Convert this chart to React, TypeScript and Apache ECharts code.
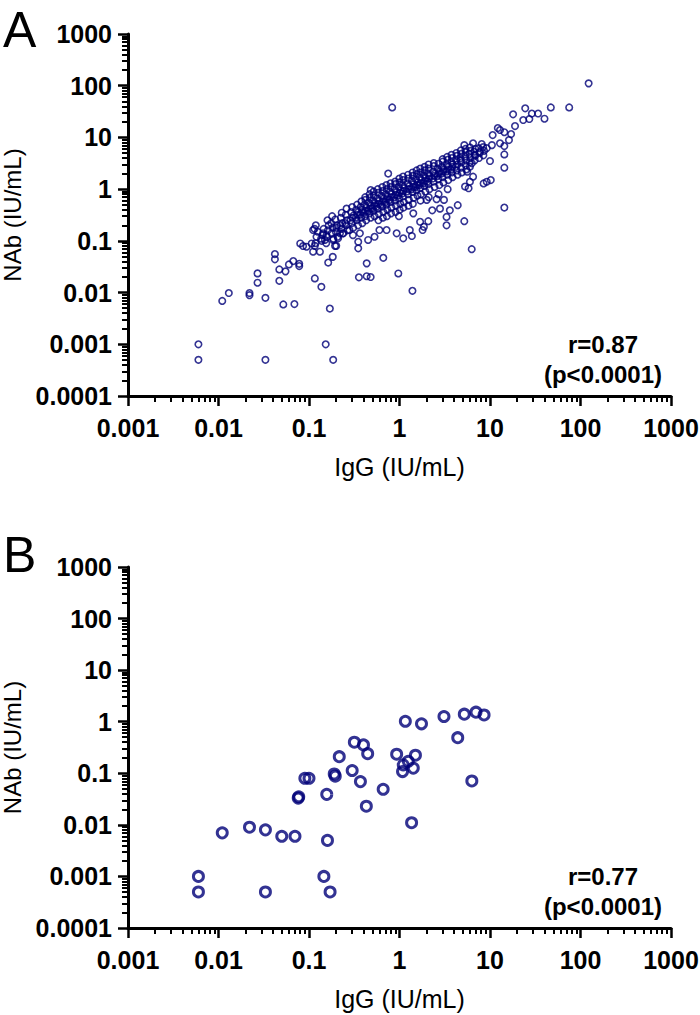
import React, { useEffect, useRef } from 'react';
import * as echarts from 'echarts';

// ---------- tick labels ----------
const xTickLabels = ['0.001', '0.01', '0.1', '1', '10', '100', '1000'];
const yTickLabels = ['0.0001', '0.001', '0.01', '0.1', '1', '10', '100', '1000'];
const minorMultipliers = [2, 3, 4, 5, 6, 7, 8, 9];
const xExpMin = -3;
const xExpMax = 3;
const yExpMin = -4;
const yExpMax = 3;

const xTitle = 'IgG (IU/mL)';
const yTitle = 'NAb (IU/mL)';
const panelLabels = ['A', 'B'];
const statsA = ['r=0.87', '(p<0.0001)'];
const statsB = ['r=0.77', '(p<0.0001)'];

// ---------- Panel A data: [IgG, NAb] ----------
const aLowTail: [number, number][] = [
  [0.006, 0.001], [0.006, 0.0005], [0.011, 0.0069], [0.013, 0.0098], [0.022, 0.0098], [0.022, 0.0089],
  [0.027, 0.0235], [0.027, 0.0155], [0.033, 0.0079], [0.033, 0.0005], [0.042, 0.0556], [0.042, 0.0439],
  [0.047, 0.0169], [0.047, 0.028], [0.052, 0.0059], [0.055, 0.0257], [0.06, 0.035], [0.067, 0.0407],
  [0.069, 0.006], [0.078, 0.036], [0.078, 0.0325], [0.08, 0.089], [0.086, 0.0795], [0.094, 0.077],
  [0.107, 0.089], [0.116, 0.08], [0.111, 0.0616], [0.132, 0.0616], [0.116, 0.0188], [0.137, 0.0129],
  [0.163, 0.038], [0.183, 0.049], [0.17, 0.0049], [0.153, 0.001], [0.185, 0.0005], [0.15, 0.104],
  [0.156, 0.129], [0.185, 0.104], [0.194, 0.08], [0.21, 0.112], [0.24, 0.14], [0.111, 0.162],
  [0.143, 0.14], [0.115, 0.171],
];

const aLowerBand: [number, number][] = [
  [6.28, 0.069], [1.39, 0.0108], [0.97, 0.0234], [0.662, 0.047], [0.434, 0.0367], [0.356, 0.0197],
  [0.434, 0.0207], [0.48, 0.02], [0.2, 0.08], [0.22, 0.14], [0.28, 0.162], [0.306, 0.129],
  [0.35, 0.096], [0.35, 0.0716], [0.365, 0.14], [0.45, 0.104], [0.53, 0.12], [0.6, 0.162],
  [0.72, 0.162], [0.93, 0.14], [1.1, 0.112], [1.37, 0.124], [1.8, 0.162], [1.3, 0.162],
  [1.42, 0.34], [1.69, 0.234], [1.86, 0.187], [2.08, 0.24], [2.0, 0.62], [2.3, 0.39],
  [2.57, 0.64], [2.8, 0.42], [3.1, 0.62], [3.6, 0.39], [3.31, 0.2], [3.31, 0.29],
  [4.4, 0.49], [5.2, 0.24],
];

const aUpper: [number, number][] = [
  [123, 111], [75, 38], [47, 38], [40, 23], [34, 29], [29, 29], [24.5, 36.6], [27.2, 22.7],
  [23.3, 21.7], [18, 28], [18.9, 16.6], [17.1, 11.6], [14.4, 12.6], [12.9, 13.9], [12.2, 15.2],
  [10.7, 11.1], [16.2, 8.9], [14.4, 6.8], [12.9, 7.7], [14.4, 4.7], [14.4, 2.6], [14.4, 0.44],
  [10, 3.5], [10.2, 1.5], [9.2, 1.39], [8.5, 1.29], [8.1, 7.45], [6.5, 7.7], [5.2, 7.1],
  [10.5, 7.1], [9.2, 6.2], [7.7, 5.3], [6.8, 4.6], [6.3, 3.16], [6.0, 2.72], [5.6, 2.17],
  [6.5, 1.74], [6.0, 1.39], [5.3, 1.12], [5.8, 1.04], [0.75, 2.0], [0.48, 0.96], [0.83, 38],
];

const aCluster: [number, number][] = [
  [0.118, 0.09], [0.121, 0.12], [0.125, 0.15], [0.119, 0.2],
  [0.138, 0.1], [0.142, 0.13], [0.145, 0.17], [0.136, 0.11],
  [0.158, 0.12], [0.162, 0.16], [0.165, 0.2], [0.155, 0.09], [0.16, 0.25],
  [0.178, 0.14], [0.183, 0.18], [0.176, 0.22], [0.186, 0.11], [0.18, 0.3],
  [0.198, 0.15], [0.204, 0.2], [0.195, 0.26], [0.207, 0.12], [0.201, 0.18],
  [0.228, 0.17], [0.233, 0.22], [0.225, 0.28], [0.236, 0.14], [0.23, 0.35], [0.222, 0.2],
  [0.258, 0.2], [0.263, 0.25], [0.255, 0.32], [0.266, 0.16], [0.26, 0.42], [0.252, 0.22],
  [0.296, 0.22], [0.304, 0.28], [0.292, 0.36], [0.308, 0.18], [0.3, 0.45], [0.288, 0.25], [0.311, 0.31],
  [0.336, 0.25], [0.344, 0.32], [0.332, 0.4], [0.348, 0.2], [0.34, 0.5], [0.33, 0.28], [0.35, 0.36],
  [0.376, 0.28], [0.385, 0.36], [0.372, 0.45], [0.388, 0.22], [0.38, 0.58], [0.368, 0.32], [0.39, 0.4],
  [0.416, 0.3], [0.425, 0.38], [0.41, 0.5], [0.428, 0.25], [0.42, 0.62], [0.405, 0.35], [0.432, 0.44], [0.418, 0.7],
  [0.465, 0.34], [0.476, 0.42], [0.458, 0.55], [0.48, 0.28], [0.47, 0.68], [0.452, 0.38], [0.485, 0.48], [0.468, 0.8],
  [0.515, 0.38], [0.527, 0.48], [0.508, 0.6], [0.532, 0.3], [0.52, 0.75], [0.502, 0.42], [0.538, 0.54], [0.518, 0.9],
  [0.575, 0.42], [0.588, 0.52], [0.566, 0.66], [0.592, 0.33], [0.58, 0.85], [0.56, 0.46], [0.598, 0.6], [0.576, 1.0], [0.585, 0.25],
  [0.643, 0.46], [0.658, 0.58], [0.634, 0.74], [0.662, 0.36], [0.65, 0.92], [0.628, 0.5], [0.668, 0.66], [0.646, 1.1], [0.655, 0.28],
  [0.714, 0.5], [0.728, 0.64], [0.705, 0.8], [0.735, 0.4], [0.72, 1.0], [0.7, 0.56], [0.74, 0.72], [0.716, 1.2], [0.726, 0.3],
  [0.792, 0.56], [0.81, 0.7], [0.785, 0.9], [0.815, 0.44], [0.8, 1.1], [0.778, 0.62], [0.822, 0.8], [0.796, 1.3], [0.806, 0.34],
  [0.89, 0.6], [0.91, 0.78], [0.88, 1.0], [0.915, 0.48], [0.9, 1.25], [0.875, 0.7], [0.925, 0.88], [0.895, 1.4], [0.905, 0.36],
  [0.99, 0.66], [1.01, 0.85], [0.98, 1.1], [1.02, 0.52], [1.0, 1.35], [0.97, 0.75], [1.03, 0.95], [0.995, 1.6], [1.005, 0.4], [0.985, 0.3],
  [1.09, 0.72], [1.11, 0.92], [1.08, 1.2], [1.12, 0.56], [1.1, 1.5], [1.07, 0.82], [1.13, 1.05], [1.095, 1.75], [1.105, 0.44],
  [1.24, 0.8], [1.26, 1.0], [1.22, 1.3], [1.27, 0.62], [1.25, 1.6], [1.21, 0.9], [1.28, 1.15], [1.245, 1.9], [1.255, 0.48],
  [1.39, 0.88], [1.42, 1.1], [1.37, 1.45], [1.43, 0.68], [1.4, 1.8], [1.36, 1.0], [1.44, 1.25], [1.395, 2.1], [1.405, 0.52],
  [1.54, 0.95], [1.57, 1.2], [1.52, 1.55], [1.58, 0.75], [1.55, 1.95], [1.51, 1.1], [1.59, 1.35], [1.545, 2.3],
  [1.69, 1.05], [1.72, 1.3], [1.67, 1.7], [1.73, 0.8], [1.7, 2.1], [1.66, 1.2], [1.74, 1.5], [1.695, 2.5], [1.705, 0.6],
  [1.88, 1.15], [1.92, 1.45], [1.86, 1.85], [1.93, 0.9], [1.9, 2.3], [1.85, 1.3], [1.94, 1.65], [1.895, 2.7],
  [2.08, 1.25], [2.12, 1.6], [2.06, 2.0], [2.14, 1.0], [2.1, 2.5], [2.04, 1.4], [2.15, 1.8], [2.095, 3.0], [2.105, 0.7],
  [2.38, 1.4], [2.43, 1.8], [2.35, 2.2], [2.44, 1.1], [2.4, 2.8], [2.33, 1.6], [2.46, 2.0], [2.395, 3.2],
  [2.68, 1.55], [2.73, 2.0], [2.65, 2.5], [2.75, 1.2], [2.7, 3.1], [2.63, 1.8], [2.77, 2.2], [2.705, 0.8],
  [2.98, 1.7], [3.04, 2.2], [2.94, 2.7], [3.06, 1.35], [3.0, 3.4], [2.92, 2.0], [3.08, 2.4], [2.995, 3.8],
  [3.38, 1.9], [3.44, 2.4], [3.34, 3.0], [3.46, 1.5], [3.4, 3.7], [3.32, 2.2], [3.48, 2.7], [3.405, 1.0], [3.36, 4.2],
  [3.78, 2.1], [3.84, 2.7], [3.74, 3.3], [3.86, 1.7], [3.8, 4.0], [3.72, 2.4], [3.88, 3.0], [3.76, 4.6],
  [4.28, 2.3], [4.35, 3.0], [4.22, 3.6], [4.38, 1.9], [4.3, 4.4], [4.2, 2.7], [4.25, 5.0],
  [4.78, 2.6], [4.85, 3.3], [4.72, 4.0], [4.88, 2.1], [4.8, 4.8], [4.7, 3.6], [4.76, 5.6],
  [5.38, 2.9], [5.45, 3.6], [5.32, 4.3], [5.48, 2.4], [5.4, 5.2], [5.35, 6.0],
  [5.98, 3.3], [6.06, 4.0], [5.92, 4.8], [6.1, 5.5], [6.02, 6.4],
  [6.78, 3.6], [6.86, 4.4], [6.7, 5.3], [6.9, 6.0],
  [7.55, 4.0], [7.7, 5.0], [7.5, 6.2],
  [8.45, 4.5], [8.6, 5.5], [8.4, 6.5],
];

// ---------- Panel B data: [IgG, NAb] ----------
const bPoints: [number, number][] = [
  [0.006, 0.001], [0.006, 0.0005], [0.011, 0.007], [0.022, 0.009], [0.033, 0.008], [0.05, 0.006],
  [0.07, 0.006], [0.033, 0.0005], [0.077, 0.035], [0.076, 0.033], [0.09, 0.08], [0.1, 0.08],
  [0.157, 0.039], [0.16, 0.005], [0.146, 0.001], [0.171, 0.0005], [0.19, 0.097], [0.195, 0.088],
  [0.216, 0.21], [0.3, 0.113], [0.317, 0.4], [0.4, 0.355], [0.445, 0.24], [0.37, 0.069],
  [0.43, 0.023], [0.66, 0.049], [0.93, 0.234], [1.16, 1.02], [1.75, 0.91], [1.1, 0.146],
  [1.25, 0.17], [1.42, 0.126], [1.5, 0.224], [1.08, 0.108], [1.36, 0.011], [3.1, 1.26],
  [4.4, 0.49], [5.2, 1.4], [7.0, 1.53], [8.6, 1.35], [6.3, 0.071],
];

const FONT = '"Liberation Sans", Arial, Helvetica, sans-serif';
const NAVY = '#000078';

const toLog = (pts: [number, number][]) => pts.map(([x, y]) => [Math.log10(x), Math.log10(y)]);

function minorValues(eMin: number, eMax: number) {
  const out: number[] = [];
  for (let e = eMin; e < eMax; e++) {
    for (const m of minorMultipliers) out.push(e + Math.log10(m));
  }
  return out;
}

function buildOption() {
  const xMinor = minorValues(xExpMin, xExpMax);
  const yMinor = minorValues(yExpMin, yExpMax);
  const grids = [
    { left: 128, top: 34, width: 543, height: 362 },
    { left: 128, top: 567, width: 543, height: 361 },
  ];
  const nameGaps = [58, 58];

  const xAxis: any[] = [];
  const yAxis: any[] = [];
  grids.forEach((_, gi) => {
    xAxis.push({
      gridIndex: gi, type: 'value', min: xExpMin, max: xExpMax, interval: 1, position: 'bottom',
      axisLine: { show: true, onZero: false, lineStyle: { color: '#000', width: 3 } },
      axisTick: { show: true, length: 10, lineStyle: { color: '#000', width: 2.5 } },
      axisLabel: {
        margin: 19, fontSize: 25, fontWeight: 'bold', color: '#000', fontFamily: FONT,
        formatter: (v: number) => xTickLabels[Math.round(v) - xExpMin],
      },
      splitLine: { show: false },
      name: xTitle, nameLocation: 'middle', nameGap: nameGaps[gi],
      nameTextStyle: { fontSize: 25, color: '#000', fontFamily: FONT },
    });
    yAxis.push({
      gridIndex: gi, type: 'value', min: yExpMin, max: yExpMax, interval: 1, position: 'left',
      axisLine: { show: true, onZero: false, lineStyle: { color: '#000', width: 3 } },
      axisTick: { show: true, length: 10, lineStyle: { color: '#000', width: 2.5 } },
      axisLabel: {
        margin: 16, fontSize: 25, fontWeight: 'bold', color: '#000', fontFamily: FONT,
        formatter: (v: number) => yTickLabels[Math.round(v) - yExpMin],
      },
      splitLine: { show: false },
      name: yTitle, nameLocation: 'middle', nameGap: 99, nameRotate: 90,
      nameTextStyle: { fontSize: 24, color: '#000', fontFamily: FONT },
    });
  });
  // minor (2..9) log ticks: companion axes sharing each grid's scale
  grids.forEach((_, gi) => {
    xAxis.push({
      gridIndex: gi, type: 'value', min: xExpMin, max: xExpMax, position: 'bottom',
      axisLine: { show: true, onZero: false, lineStyle: { color: 'rgba(0,0,0,0)', width: 1 } },
      axisTick: { show: true, length: 6, customValues: xMinor, lineStyle: { color: '#000', width: 2 } },
      axisLabel: { show: false }, splitLine: { show: false },
    });
    yAxis.push({
      gridIndex: gi, type: 'value', min: yExpMin, max: yExpMax, position: 'left',
      axisLine: { show: true, onZero: false, lineStyle: { color: 'rgba(0,0,0,0)', width: 1 } },
      axisTick: { show: true, length: 6, customValues: yMinor, lineStyle: { color: '#000', width: 2 } },
      axisLabel: { show: false }, splitLine: { show: false },
    });
  });

  const aData = toLog([...aLowTail, ...aLowerBand, ...aCluster, ...aUpper]);
  const bData = toLog(bPoints);

  const textStyle = (text: string, size: number, bold: boolean) => ({
    text, fontSize: size, fontWeight: bold ? 'bold' : 'normal', fontFamily: FONT, fill: '#000',
    align: 'center', verticalAlign: 'middle',
  });

  return {
    animation: false,
    backgroundColor: '#fff',
    grid: grids.map((g) => ({ ...g, containLabel: false, outerBoundsMode: 'none' })),
    xAxis,
    yAxis,
    series: [
      {
        type: 'scatter', xAxisIndex: 0, yAxisIndex: 0, data: aData, symbol: 'circle', symbolSize: 6.5,
        itemStyle: { color: 'rgba(255,255,255,0)', borderColor: NAVY, borderWidth: 1.6 },
        silent: true,
      },
      {
        type: 'scatter', xAxisIndex: 1, yAxisIndex: 1, data: bData, symbol: 'circle', symbolSize: 10,
        itemStyle: { color: 'rgba(255,255,255,0)', borderColor: NAVY, borderWidth: 3 },
        silent: true,
      },
    ],
    graphic: [
      { type: 'text', x: 3, y: 30, style: { ...textStyle(panelLabels[0], 50, false), align: 'left' } },
      { type: 'text', x: 3, y: 555, style: { ...textStyle(panelLabels[1], 50, false), align: 'left' } },
      { type: 'text', x: 603, y: 344, style: textStyle(statsA[0], 24, true) },
      { type: 'text', x: 603, y: 374, style: textStyle(statsA[1], 24, true) },
      { type: 'text', x: 603, y: 876, style: textStyle(statsB[0], 24, true) },
      { type: 'text', x: 603, y: 906, style: textStyle(statsB[1], 24, true) },
    ],
  };
}

export default function App() {
  const ref = useRef<HTMLDivElement>(null);
  useEffect(() => {
    document.body.style.margin = '0';
    if (!ref.current) return;
    const chart = echarts.init(ref.current, undefined, { renderer: 'svg' });
    chart.setOption(buildOption() as any);
    return () => chart.dispose();
  }, []);
  return <div ref={ref} style={{ width: 700, height: 1015, position: 'absolute', left: 0, top: 0 }} />;
}
